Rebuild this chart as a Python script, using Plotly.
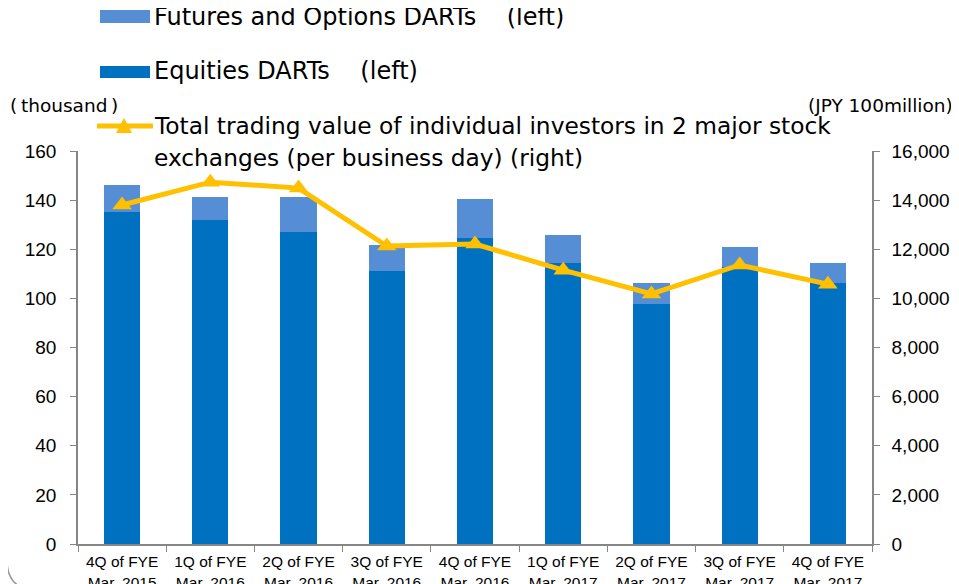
import plotly.graph_objects as go

categories = ["4Q of FYE<br>Mar. 2015", "1Q of FYE<br>Mar. 2016", "2Q of FYE<br>Mar. 2016",
              "3Q of FYE<br>Mar. 2016", "4Q of FYE<br>Mar. 2016", "1Q of FYE<br>Mar. 2017",
              "2Q of FYE<br>Mar. 2017", "3Q of FYE<br>Mar. 2017", "4Q of FYE<br>Mar. 2017"]
equities_darts = [135.2, 131.9, 127.2, 111.2, 124.7, 114.3, 97.6, 112.9, 106.1]
futures_options_darts = [11.0, 9.3, 14.0, 10.5, 15.6, 11.5, 8.5, 7.9, 8.2]
trading_value = [13800, 14730, 14490, 12130, 12210, 11150, 10180, 11360, 10580]

W, H = 959, 584
OFF = 8  # page body margin in the browser
L, R, T, B = 78, 872, 151, 544
FONT = "Liberation Sans, Arial, Noto Sans CJK JP, sans-serif"
LFONT = "DejaVu Sans, Liberation Sans, sans-serif"
C_EQ = "#0070C0"
C_FO = "#558ED5"
C_LINE = "#FFC000"
AX = "#868686"

def px(x):
    return (x - L) / (R - L)

def py(y):
    return (B - y) / (B - T)

fig = go.Figure()
fig.add_trace(go.Bar(x=categories, y=equities_darts, marker=dict(color=C_EQ, line=dict(width=0)),
                     name="Equities DARTs (left)"))
fig.add_trace(go.Bar(x=categories, y=futures_options_darts, marker=dict(color=C_FO, line=dict(width=0)),
                     name="Futures and Options DARTs (left)"))
fig.add_trace(go.Scatter(x=categories, y=trading_value, yaxis="y2", mode="lines+markers",
                         line=dict(color=C_LINE, width=5),
                         marker=dict(symbol="triangle-up", size=17, color=C_LINE),
                         name="Total trading value"))

shapes = []
annotations = []

# legend swatches
shapes.append(dict(type="rect", xref="paper", yref="paper", x0=px(100), x1=px(150), y0=py(10), y1=py(23),
                   fillcolor=C_FO, line=dict(width=0)))
shapes.append(dict(type="rect", xref="paper", yref="paper", x0=px(100), x1=px(150), y0=py(66), y1=py(78),
                   fillcolor=C_EQ, line=dict(width=0)))
shapes.append(dict(type="line", xref="paper", yref="paper", x0=px(97), x1=px(153), y0=py(126), y1=py(126),
                   line=dict(color=C_LINE, width=5)))
tri = f"M {px(116)} {py(133)} L {px(132)} {py(133)} L {px(124)} {py(118)} Z"
shapes.append(dict(type="path", xref="paper", yref="paper", path=tri, fillcolor=C_LINE, line=dict(width=0)))

# outer rounded frame
x0, x1, y0, y1, r = 7, 964, -10, 590, 30
path = (f"M {px(x0)} {py(y0)} L {px(x0)} {py(y1 - r)} "
        f"Q {px(x0)} {py(y1)} {px(x0 + r)} {py(y1)} "
        f"L {px(x1 - r)} {py(y1)} Q {px(x1)} {py(y1)} {px(x1)} {py(y1 - r)} "
        f"L {px(x1)} {py(y0)}")
shapes.append(dict(type="path", xref="paper", yref="paper", path=path, line=dict(color="#9a9a9a", width=1.5)))

def txt(s, x, y, size=24, xanchor="left", family=LFONT):
    annotations.append(dict(text=s, xref="paper", yref="paper", x=px(x), y=py(y), xanchor=xanchor,
                            yanchor="middle", showarrow=False, font=dict(family=family, size=size, color="#000000")))

sp = "\u00a0"
txt("Futures" + sp + "and" + sp + "Options" + sp + "DARTs" + sp * 4 + "(left)", 152, 17)
txt("Equities" + sp + "DARTs" + sp * 4 + "(left)", 152, 71)
txt("Total trading value of individual investors in 2 major stock", 152, 126, size=23.3)
txt("exchanges (per business day) (right)", 152, 157, size=23.3)
txt("(\u2009thousand\u2009)", 8, 106, size=18.5)
txt("(JPY 100million)", 955, 106, size=18.5, xanchor="right")

fig.update_layout(
    width=W - OFF, height=H - OFF,
    margin=dict(l=L - OFF, r=W - R, t=T - OFF, b=H - B, autoexpand=False),
    barmode="stack", bargap=0.59,
    plot_bgcolor="white", paper_bgcolor="white",
    showlegend=False,
    font=dict(family=FONT, color="#000000"),
    xaxis=dict(range=[-0.5, len(categories) - 0.5], showline=True, linecolor=AX, linewidth=1.5,
               ticks="outside", tickcolor=AX, ticklen=6,
               tickson="boundaries", tickfont=dict(size=15.5), automargin=False, showgrid=False,
               ticklabelstandoff=3),
    yaxis=dict(range=[0, 160], dtick=20, showline=True, linecolor=AX, linewidth=1.5, ticks="outside",
               tickcolor=AX, ticklen=6, showgrid=False, zeroline=False, tickfont=dict(size=19),
               ticklabelstandoff=10, automargin=False),
    yaxis2=dict(range=[0, 16000], dtick=2000, overlaying="y", side="right", showline=True, linecolor=AX,
                linewidth=1.5, ticks="outside", tickcolor=AX, ticklen=6, showgrid=False, zeroline=False,
                tickformat=",d", tickfont=dict(size=19), ticklabelstandoff=8, automargin=False),
    shapes=shapes, annotations=annotations,
)

fig.write_html("out.html")
